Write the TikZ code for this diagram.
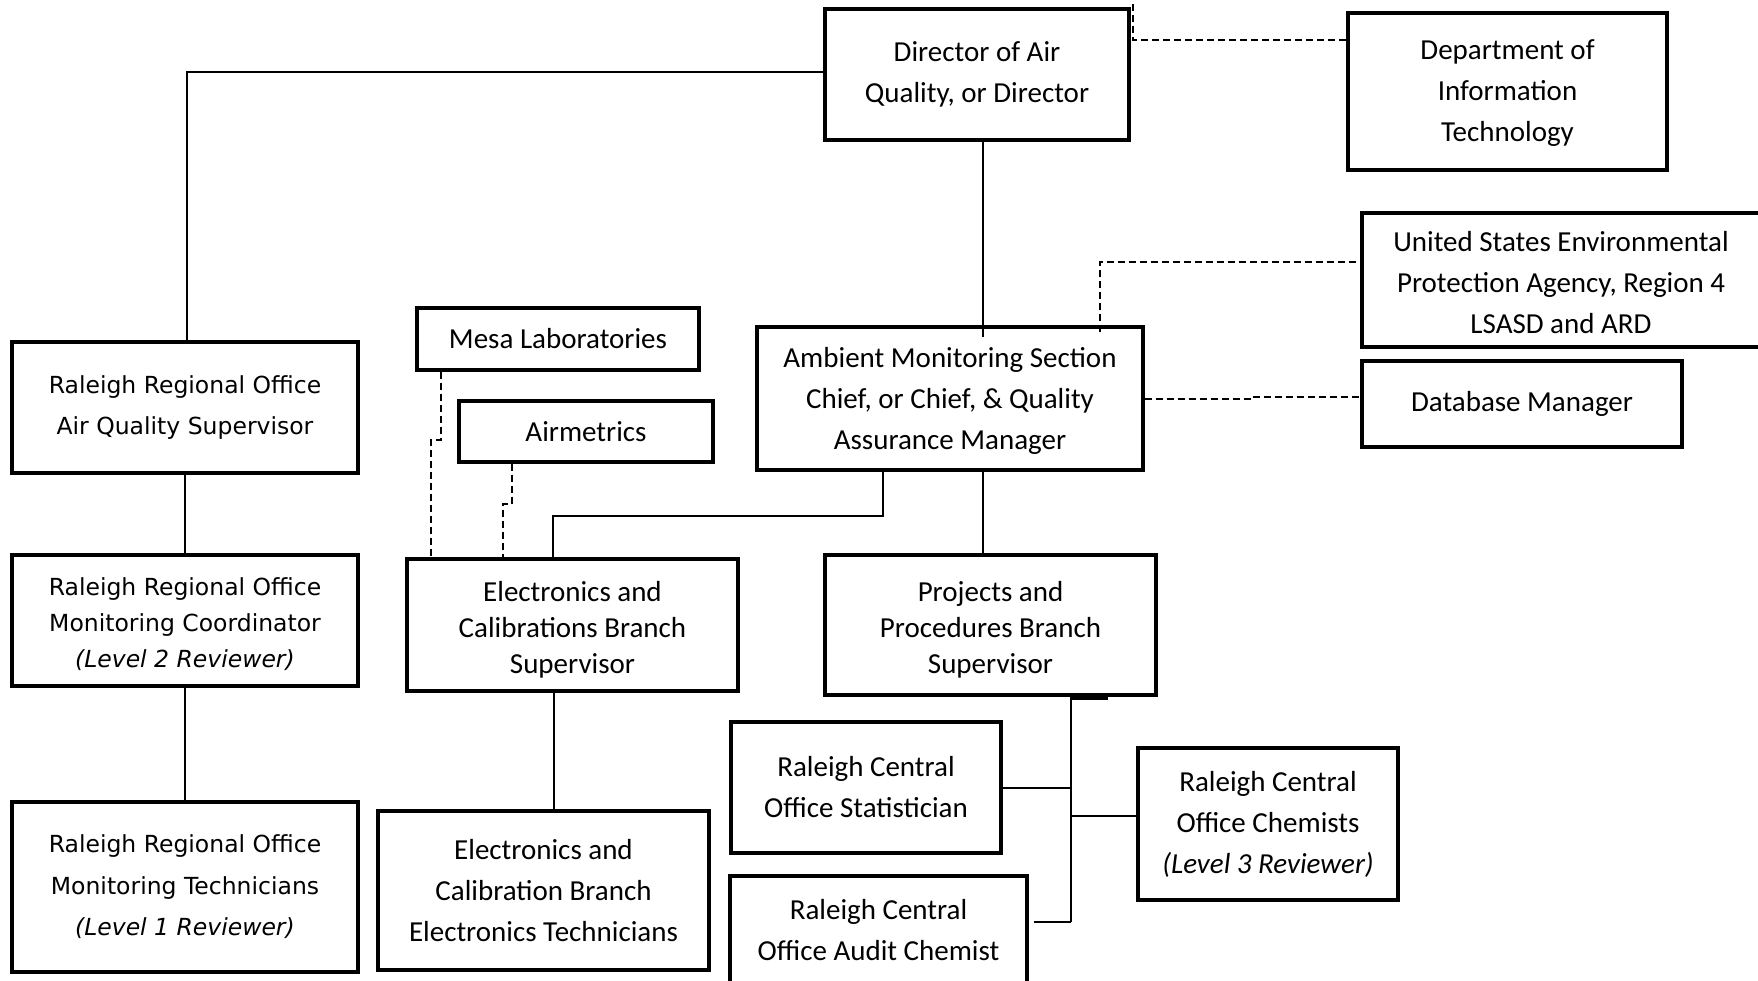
\documentclass[tikz,border=0pt]{standalone}
\usepackage{fontspec}
\usetikzlibrary{calc}
\setmainfont{Carlito}
\newfontfamily\leftfont{DejaVu Sans}
\begin{document}
\begin{tikzpicture}[x=1pt,y=-1pt,
 box/.style={draw, line width=3.4pt, inner sep=0pt, align=center, font=\fontsize{29}{41}\selectfont},
 lab/.style={align=center, inner sep=0pt, font=\fontsize{29}{41}\selectfont},
 lab36/.style={lab, font=\fontsize{29}{36}\selectfont},
 lbox/.style={box, font=\leftfont\fontsize{23.5}{40.5}\selectfont},
 conn/.style={line width=1.7pt},
 dsh/.style={line width=2pt, dash pattern=on 7pt off 4pt}]
\useasboundingbox (0,0) rectangle (1758,980);
\fill[white] (0,0) rectangle (1758,980);

% boxes
\node[box, minimum width=304pt, minimum height=131pt] (dir) at (977,74.5) {Director of Air\\Quality, or Director};
\node[box, minimum width=319pt, minimum height=157pt, label={[lab, yshift=-2pt]center:{Department of\\Information\\Technology}}] (dit) at (1507.5,91.5) {};
\node[box, minimum width=398pt, minimum height=134pt, label={[lab, yshift=-3pt]center:{United States Environmental\\Protection Agency, Region 4\\LSASD and ARD}}] (epa) at (1561,280) {};
\node[box, minimum width=320pt, minimum height=86pt] (dbm) at (1522,404) {Database Manager};
\node[box, minimum width=386pt, minimum height=143pt, label={[lab, yshift=-2pt]center:{Ambient Monitoring Section\\Chief, or Chief, \& Quality\\Assurance Manager}}] (amb) at (950,398.5) {};

\node[lbox, minimum width=346pt, minimum height=131pt] (raq) at (185,407.5) {Raleigh Regional Office\\Air Quality Supervisor};
\node[lbox, minimum width=346pt, minimum height=131pt, label={[lab, font=\leftfont\fontsize{23.5}{36}\selectfont, yshift=-4pt]center:{Raleigh Regional Office\\Monitoring Coordinator\\\textit{(Level 2 Reviewer)}}}] (rmc) at (185,620.5) {};
\node[lbox, font=\leftfont\fontsize{23.5}{41.5}\selectfont, minimum width=346pt, minimum height=170pt] (rmt) at (185,887) {Raleigh Regional Office\\Monitoring Technicians\\\textit{(Level 1 Reviewer)}};

\node[box, minimum width=282pt, minimum height=62pt] (mesa) at (558,339) {Mesa Laboratories};
\node[box, minimum width=254pt, minimum height=61pt] (air) at (586,431.5) {Airmetrics};
\node[box, minimum width=331pt, minimum height=132pt, label={[lab36, yshift=-4.5pt]center:{Electronics and\\Calibrations Branch\\Supervisor}}] (ecb) at (572.5,625) {};
\node[box, minimum width=331pt, minimum height=140pt, label={[lab36, yshift=-4.5pt]center:{Projects and\\Procedures Branch\\Supervisor}}] (ppb) at (990.5,625) {};
\node[box, minimum width=331pt, minimum height=159pt] (ect) at (543.5,890.5) {Electronics and\\Calibration Branch\\Electronics Technicians};
\node[box, minimum width=270pt, minimum height=131pt] (stat) at (866,787.5) {Raleigh Central\\Office Statistician};
\node[box, minimum width=297pt, minimum height=108pt] (aud) at (878.5,930) {Raleigh Central\\Office Audit Chemist};
\node[box, minimum width=260pt, minimum height=152pt] (chem) at (1268,824) {Raleigh Central\\Office Chemists\\\textit{(Level 3 Reviewer)}};

% helper coordinates
\coordinate (xa) at (983,0);
\coordinate (xb) at (883,516);
\coordinate (xc) at (553,0);
\coordinate (y40) at (0,40);
\coordinate (y262) at (1100,262);
\coordinate (ms) at (441,440);
\coordinate (as) at (512,504);
\coordinate (bx) at (1071,0);

% solid connectors
\draw[conn] (dir.west |- 0,72) -| (raq.north -| 187,0);
\draw[conn] (dir.south -| xa) -- ([yshift=-12pt]amb.north -| xa);
\draw[conn] (amb.south -| xa) -- (ppb.north -| xa);
\draw[conn] (amb.south -| xb) -- (xb) -| (ecb.north -| xc);
\draw[conn] (raq) -- (rmc);
\draw[conn] (rmc) -- (rmt);
\draw[conn] (ecb.south -| 554,0) -- (ect.north -| 554,0);
\draw[conn, line width=2.4pt] (ppb.south -| bx) -- (bx |- 0,922);
\draw[line width=3pt] (ppb.south -| bx) ++(0,1.5) -- ++(37,0);
\draw[conn] (stat.east |- 0,788) -- (bx |- 0,788);
\draw[conn] (bx |- 0,816) -- (chem.west |- 0,816);
\draw[conn] ([xshift=5pt]aud.east |- 0,922) -- (bx |- 0,922);

% dashed connectors
\draw[dsh] ($(dir.north east)+(2,-3)$) |- (dit.west |- y40);
\draw[dsh] ([yshift=-7pt]amb.north -| y262) -- (y262) -- (epa.west |- y262);
\draw[dsh] (amb.east |- 0,399) -- (1250,399) -- (1250,397) -- (dbm.west |- 0,397);
\draw[dsh] (mesa.south -| ms) -- (ms) -- (431,440) -- (ecb.north -| 431,0);
\draw[dsh] (air.south -| as) -- (as) -- (503,504) -- (ecb.north -| 503,0);
\end{tikzpicture}
\end{document}
